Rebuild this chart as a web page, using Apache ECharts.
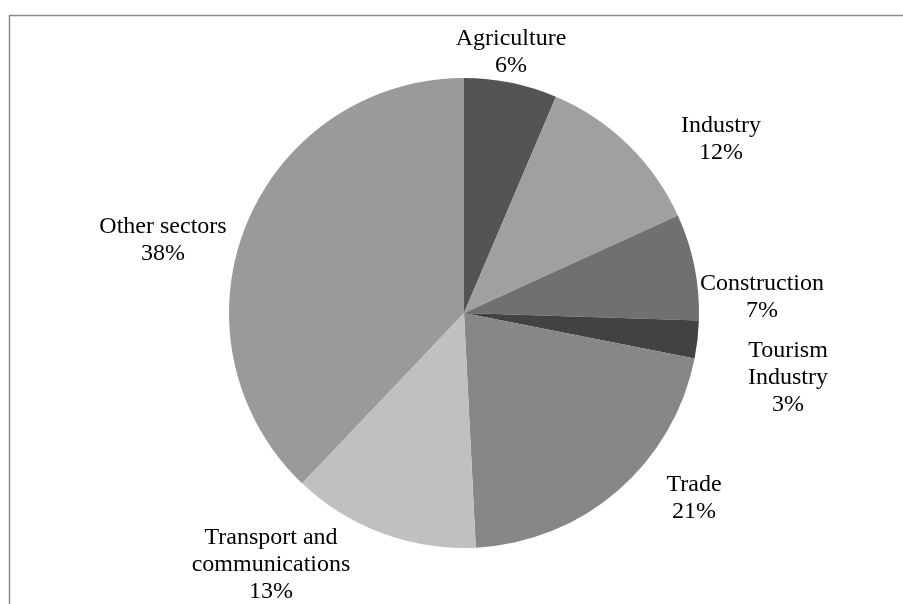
<!DOCTYPE html>
<html>
<head>
<meta charset="utf-8">
<script src="https://cdn.jsdelivr.net/npm/echarts@6/dist/echarts.min.js"></script>
<style>html,body{margin:0;padding:0;background:#fff;}#c{width:903px;height:604px;}</style>
</head>
<body>
<div id="c"></div>
<script>
// Data
const categories = ['Agriculture', 'Industry', 'Construction', 'Tourism\nIndustry', 'Trade', 'Transport and\ncommunications', 'Other sectors'];
const shares = [6.4, 11.8, 7.3, 2.6, 21.1, 12.9, 37.9];

// Styles / layout (not data)
const sliceColors = ['#545454', '#a0a0a0', '#707070', '#424242', '#878787', '#c0c0c0', '#9a9a9a'];
const labelCenters = [[511, 52], [721, 139], [762, 297], [788, 378], [694, 498], [271, 565], [163, 240]];

const chart = echarts.init(document.getElementById('c'), null, {renderer: 'canvas'});
chart.setOption({
  backgroundColor: '#ffffff',
  animation: false,
  graphic: [{
    type: 'rect',
    shape: {x: 9.5, y: 15.5, width: 1000, height: 1000},
    style: {fill: 'none', stroke: '#8a8a8a', lineWidth: 1.5},
    silent: true
  }],
  series: [{
    type: 'pie',
    center: [464, 313],
    radius: 235,
    startAngle: 90,
    clockwise: true,
    avoidLabelOverlap: false,
    itemStyle: {borderWidth: 0},
    label: {
      show: true,
      position: 'outside',
      color: '#000',
      fontFamily: 'Liberation Serif, Times New Roman, serif',
      fontSize: 24,
      lineHeight: 27,
      align: 'center',
      formatter: p => p.name + '\n' + Math.round(p.percent) + '%'
    },
    labelLine: {show: false},
    labelLayout: p => ({
      x: labelCenters[p.dataIndex][0],
      y: labelCenters[p.dataIndex][1],
      align: 'center',
      verticalAlign: 'middle'
    }),
    emphasis: {disabled: true},
    data: categories.map((n, i) => ({name: n, value: shares[i], itemStyle: {color: sliceColors[i]}}))
  }]
});
</script>
</body>
</html>
